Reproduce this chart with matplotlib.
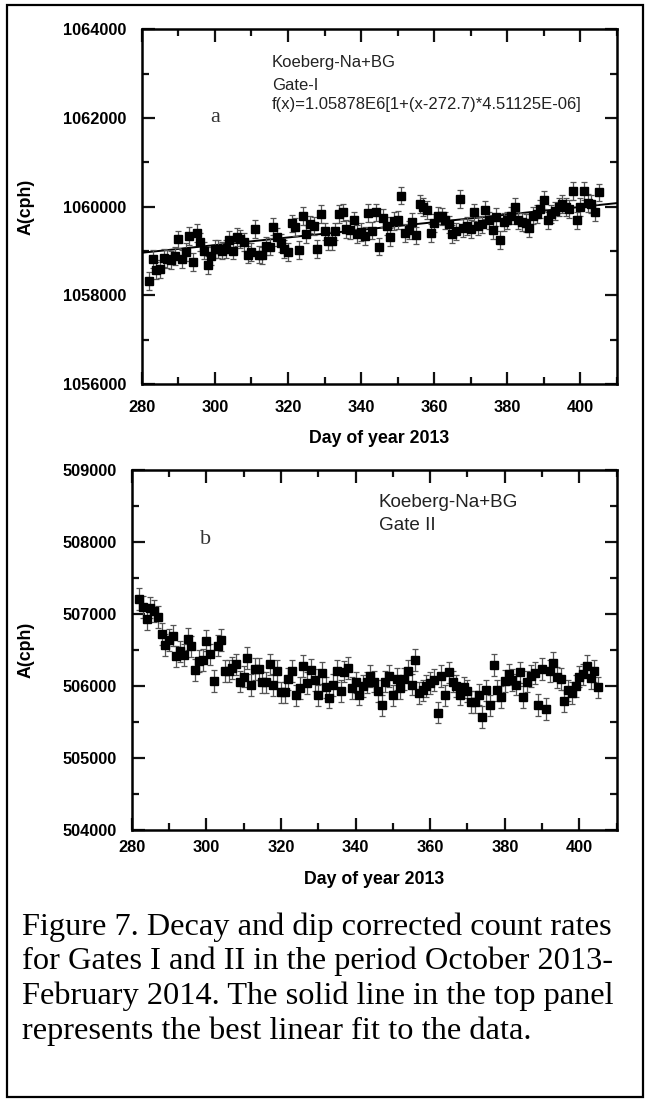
import matplotlib
matplotlib.use("Agg")
import matplotlib.pyplot as plt
from matplotlib.patches import Rectangle
from matplotlib.ticker import MultipleLocator, FormatStrFormatter

# ---------------- data ----------------
top_days = [282, 283, 284, 285, 286, 287, 288, 289, 290, 291, 292, 293, 294, 295, 296, 297,
            298, 299, 300, 301, 302, 303, 304, 305, 306, 307, 308, 309, 310, 311, 312, 313,
            314, 315, 316, 317, 318, 319, 320, 321, 322, 323, 324, 325, 326, 327, 328, 329,
            330, 331, 332, 333, 334, 335, 336, 337, 338, 339, 340, 341, 342, 343, 344, 345,
            346, 347, 348, 349, 350, 351, 352, 353, 354, 355, 356, 357, 358, 359, 360, 361,
            362, 363, 364, 365, 366, 367, 368, 369, 370, 371, 372, 373, 374, 375, 376, 377,
            378, 379, 380, 381, 382, 383, 384, 385, 386, 387, 388, 389, 390, 391, 392, 393,
            394, 395, 396, 397, 398, 399, 400, 401, 402, 403, 404, 405]
top_counts = [1058320, 1058820, 1058560, 1058600, 1058850, 1058820, 1058790, 1058880, 1059260,
              1058820, 1058970, 1059330, 1058750, 1059400, 1059210, 1059010, 1058690, 1058880,
              1059050, 1059050, 1059010, 1059050, 1059250, 1059010, 1059310, 1059270, 1059210,
              1058920, 1058970, 1059500, 1058920, 1058900, 1059120, 1059100, 1059550, 1059310,
              1059180, 1059050, 1058970, 1059620, 1059540, 1059030, 1059790, 1059390, 1059600,
              1059570, 1059050, 1059840, 1059440, 1059220, 1059220, 1059440, 1059840, 1059870,
              1059500, 1059480, 1059690, 1059390, 1059420, 1059330, 1059850, 1059460, 1059870,
              1059100, 1059750, 1059570, 1059310, 1059670, 1059700, 1060250, 1059400, 1059480,
              1059650, 1059350, 1060060, 1060000, 1059930, 1059400, 1059630, 1059800, 1059780,
              1059690, 1059600, 1059390, 1059440, 1060180, 1059520, 1059560, 1059500, 1059870,
              1059570, 1059600, 1059930, 1059690, 1059480, 1059760, 1059240, 1059650, 1059690,
              1059800, 1059990, 1059690, 1059650, 1059630, 1059520, 1059800, 1059840, 1059950,
              1060150, 1059690, 1059840, 1059910, 1059990, 1060060, 1060000, 1059950, 1060350,
              1059690, 1060000, 1060350, 1060080, 1060060, 1059870, 1060320]
top_err = 200

fit_days = [280, 410]
fit_counts = [1058960, 1060080]

bot_days = list(range(282, 406))
bot_counts = [507210, 507100, 506930, 507090, 507040, 506960, 506720, 506570, 506640, 506700,
              506410, 506480, 506430, 506650, 506550, 506220, 506350, 506360, 506630, 506440,
              506070, 506560, 506640, 506210, 506210, 506250, 506300, 506060, 506130, 506390,
              506010, 506240, 506240, 506050, 506050, 506300, 506010, 506210, 505910, 505910,
              506100, 506210, 505870, 505970, 506280, 506040, 506220, 506080, 505870, 506180,
              505980, 505840, 506010, 506210, 505930, 506200, 506250, 505970, 506050, 505880,
              506000, 506050, 506140, 506060, 505930, 505730, 506060, 506140, 505870, 506100,
              505970, 506100, 506210, 506020, 506360, 505900, 505940, 506000, 506040, 506080,
              505630, 506140, 505870, 506190, 506060, 506000, 505880, 505980, 505930, 505780,
              505780, 505880, 505570, 505940, 505730, 506290, 505940, 505850, 506070, 506160,
              506080, 506020, 506190, 505850, 506060, 506140, 506180, 505740, 506240, 505680,
              506210, 506320, 506120, 506100, 505790, 505940, 505900, 506000, 506130, 506160,
              506280, 506110, 506210, 505980]
bot_err = 150

x_ticks = [280, 300, 320, 340, 360, 380, 400]
xlabel = "Day of year 2013"
ylabel = "A(cph)"
top_text = ["Koeberg-Na+BG", "Gate-I", "f(x)=1.05878E6[1+(x-272.7)*4.51125E-06]"]
bot_text = ["Koeberg-Na+BG", "Gate II"]
caption = ["Figure 7. Decay and dip corrected count rates",
           "for Gates I and II in the period October 2013-",
           "February 2014. The solid line in the top panel",
           "represents the best linear fit to the data."]

# ---------------- figure ----------------
W, H = 649, 1101
fig = plt.figure(figsize=(W / 100, H / 100), dpi=100)
plt.rcParams['font.family'] = ['Liberation Sans', 'DejaVu Sans']

def fx(px):
    return px / W

def fy(py):
    return 1 - py / H

# border around whole figure
fig.patches.append(Rectangle((fx(7), fy(1097)), fx(643) - fx(7), fy(5) - fy(1097),
                             transform=fig.transFigure, fill=False, lw=1.6, ec='black'))

def style_axes(ax, ymaj, ymin, xpad, lpad):
    ax.set_xlim(280, 410)
    ax.set_xticks(x_ticks)
    ax.xaxis.set_minor_locator(MultipleLocator(10))
    ax.yaxis.set_major_locator(MultipleLocator(ymaj))
    ax.yaxis.set_minor_locator(MultipleLocator(ymin))
    ax.yaxis.set_major_formatter(FormatStrFormatter('%d'))
    ax.tick_params(which='both', direction='in', top=True, right=True, width=1.6, color='#111')
    ax.tick_params(which='major', length=9)
    ax.tick_params(which='minor', length=5)
    ax.tick_params(axis='y', which='major', pad=11)
    ax.tick_params(axis='x', which='major', pad=xpad)
    for lab in ax.get_xticklabels() + ax.get_yticklabels():
        lab.set_fontweight('bold')
        lab.set_fontsize(11.8)
    for s in ax.spines.values():
        s.set_linewidth(1.8)
    ax.set_xlabel(xlabel, fontsize=12.8, fontweight='bold', labelpad=lpad)
    ax.set_ylabel(ylabel, fontsize=12.8, fontweight='bold')

# ---- top panel ----
ax1 = fig.add_axes([fx(141.7), fy(384), fx(617) - fx(141.7), fy(29.3) - fy(384)])
ax1.errorbar(top_days, top_counts, yerr=top_err, fmt='s', color='black', ms=6,
             ecolor='#555555', elinewidth=0.9, capsize=2.5, capthick=0.9, zorder=3)
ax1.plot(fit_days, fit_counts, color='black', lw=1.4, zorder=2)
ax1.set_ylim(1056000, 1064000)
style_axes(ax1, 2000, 1000, 11.5, 11)
ax1.yaxis.set_label_coords(-0.225, 0.5)
for txt, py in zip(top_text, [62, 86, 104]):
    ax1.text(fx(272), fy(py), txt, transform=fig.transFigure, fontsize=12,
             color='#222', va='center')
ax1.text(fx(215), fy(117), "a", transform=fig.transFigure, fontsize=16,
         family='Liberation Serif', color='#333', ha='center', va='center')

# ---- bottom panel ----
ax2 = fig.add_axes([fx(131.7), fy(830), fx(616.7) - fx(131.7), fy(470) - fy(830)])
ax2.errorbar(bot_days, bot_counts, yerr=bot_err, fmt='s', color='black', ms=6,
             ecolor='#555555', elinewidth=0.9, capsize=2.5, capthick=0.9, zorder=3)
ax2.set_ylim(504000, 509000)
style_axes(ax2, 1000, 500, 7, 12)
ax2.yaxis.set_label_coords(-0.2, 0.5)
for txt, py in zip(bot_text, [502, 526]):
    ax2.text(fx(379), fy(py), txt, transform=fig.transFigure, fontsize=13.6,
             color='#222', va='center')
ax2.text(fx(206), fy(539), "b", transform=fig.transFigure, fontsize=16,
         family='Liberation Serif', color='#333', ha='center', va='center')

# ---- caption ----
for i, line in enumerate(caption):
    fig.text(fx(22), fy(927 + 34.7 * i), line, fontsize=23.3, family='Liberation Serif',
             color='black', va='center', ha='left')

fig.savefig("out.png", dpi=100)
